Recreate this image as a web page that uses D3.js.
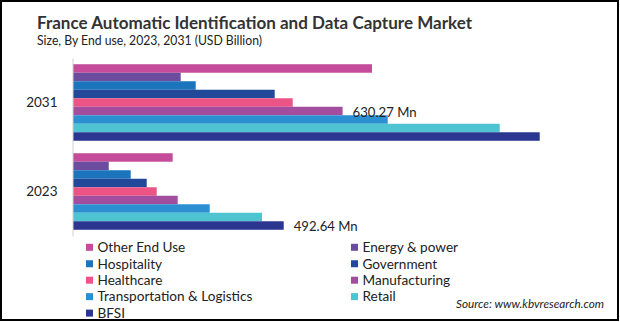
<!DOCTYPE html>
<html>
<head>
<meta charset="utf-8">
<script src="https://cdn.jsdelivr.net/npm/d3@7"></script>
<style>
  html, body { margin: 0; padding: 0; background: #fff; }
  svg { display: block; }
  text { font-family: Lato, "Open Sans", "Liberation Sans", sans-serif; fill: #222; }
</style>
</head>
<body>
<svg id="chart" width="620" height="322"></svg>
<script>
// ---- data (USD Mn) ----
const years = ["2031", "2023"];
const segments = ["Other End Use", "Energy & power", "Hospitality", "Government", "Healthcare",
                  "Manufacturing", "Transportation & Logistics", "Retail", "BFSI"];
const values2031 = [699.0, 251.8, 286.9, 471.6, 513.7, 630.27, 735.8, 997.6, 1091.2];
const values2023 = [233.1, 83.5, 134.9, 172.3, 195.7, 244.8, 319.6, 441.9, 492.64];
const segmentColors = ["#C54B9B", "#6B4C9F", "#1C75BC", "#22489A", "#EC5486",
                       "#A34D9E", "#2B8FD1", "#4EC3D1", "#2B3691"];
const annotations = [
  { year: "2031", segment: "Manufacturing", text: "630.27 Mn" },
  { year: "2023", segment: "BFSI", text: "492.64 Mn" }
];
const titleText = "France Automatic Identification and Data Capture Market";
const subtitleText = "Size, By End use, 2023, 2031 (USD Billion)";
const sourceText = "Source: www.kbvresearch.com";

const valuesByYear = { "2031": values2031, "2023": values2023 };

const svg = d3.select("#chart");

// frame
svg.append("rect").attr("x", 1).attr("y", 1).attr("width", 617).attr("height", 319)
  .attr("fill", "#fff").attr("stroke", "#000").attr("stroke-width", 2);

function fit(sel, w) {
  sel.attr("textLength", w).attr("lengthAdjust", "spacingAndGlyphs");
}

// title
svg.append("text").attr("x", 37).attr("y", 28.5)
  .style("font-size", "16.5px").style("font-weight", "700").style("fill", "#333")
  .text(titleText).call(fit, 435);
svg.append("text").attr("x", 37).attr("y", 44.5)
  .style("font-size", "12.5px").style("fill", "#222")
  .text(subtitleText).call(fit, 225);

// scales
const x = d3.scaleLinear().domain([0, 1200]).range([73, 73 + 1200 / 2.338]);
const y = d3.scaleBand().domain(years).range([58, 236]).paddingInner(0.14).paddingOuter(0.07);
const yi = d3.scaleBand().domain(segments).range([0, y.bandwidth()]);
const color = d3.scaleOrdinal().domain(segments).range(segmentColors);

// bars
const groups = svg.selectAll("g.year").data(years).join("g")
  .attr("class", "year").attr("transform", d => `translate(0,${y(d)})`);
groups.selectAll("rect").data(yr => segments.map((s, i) => ({ s, v: valuesByYear[yr][i] })))
  .join("rect")
  .attr("x", x(0)).attr("y", d => yi(d.s))
  .attr("width", d => x(d.v) - x(0)).attr("height", yi.bandwidth())
  .attr("fill", d => color(d.s));

// axis
const yAxis = d3.axisLeft(y).tickSize(0).tickPadding(15);
const ga = svg.append("g").attr("transform", "translate(72.5,0)").call(yAxis);
ga.select(".domain").attr("stroke", "#d0d0d0").attr("stroke-width", 1);
ga.selectAll(".tick text").style("font-size", "13.5px").style("fill", "#222")
  .style("font-family", "Lato, 'Open Sans', sans-serif");

// annotations
annotations.forEach(a => {
  const i = segments.indexOf(a.segment);
  const v = valuesByYear[a.year][i];
  svg.append("text")
    .attr("x", x(v) + 10)
    .attr("y", y(a.year) + yi(a.segment) + yi.bandwidth() / 2 + 1)
    .attr("dy", "0.35em")
    .style("font-size", "13.5px").style("fill", "#222")
    .text(a.text).call(fit, 64);
});

// legend
const legendCols = [86, 351];
const legendRow0 = 247.3, legendStep = 16.45;
const lg = svg.append("g");
segments.forEach((s, i) => {
  const cx = legendCols[i % 2];
  const cy = legendRow0 + Math.floor(i / 2) * legendStep;
  lg.append("rect").attr("x", cx).attr("y", cy - 3.5).attr("width", 7).attr("height", 7)
    .attr("fill", color(s));
  lg.append("text").attr("x", cx + 11.5).attr("y", cy).attr("dy", "0.35em")
    .style("font-size", "13.6px").style("fill", "#222").text(s);
});

// source
svg.append("text").attr("x", 604).attr("y", 304).attr("dy", "0.35em")
  .attr("text-anchor", "end")
  .style("font-size", "11.5px").style("font-style", "italic").style("fill", "#222")
  .text(sourceText).call(fit, 148);
</script>
</body>
</html>
